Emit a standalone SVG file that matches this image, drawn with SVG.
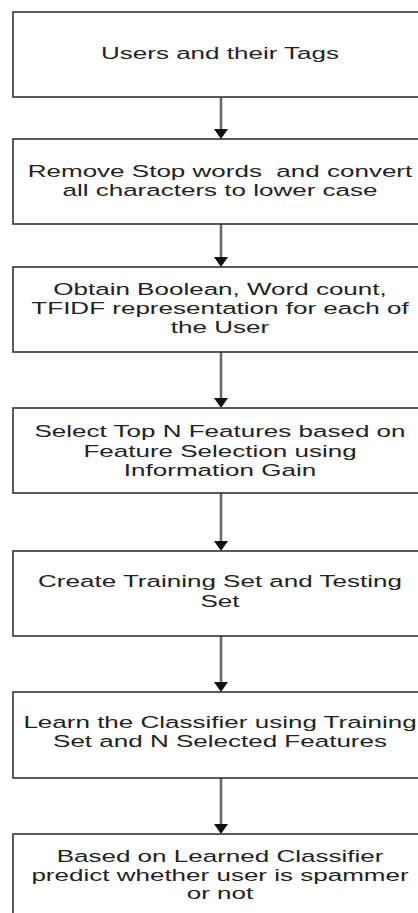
<svg xmlns="http://www.w3.org/2000/svg" width="418" height="913" viewBox="0 0 418 913">
<style>
.box{fill:#fff;stroke:#333;stroke-width:1.6}
.lbl{font-family:"Liberation Sans",Arial,sans-serif;font-size:17px;fill:#222;text-anchor:middle}
.edge{stroke:#6a6a6a;stroke-width:2.6;fill:none}
.head{fill:#111}
</style>
<defs>
<path id="ah" d="M-7,-10 L7,-10 L0,0 Z"/>
</defs>
<rect width="418" height="913" fill="#fff"/>
<g id="connectors">
<line class="edge" x1="221" y1="97" x2="221" y2="130"/><use href="#ah" class="head" x="221" y="139"/>
<line class="edge" x1="221" y1="224" x2="221" y2="258"/><use href="#ah" class="head" x="221" y="267"/>
<line class="edge" x1="221" y1="352" x2="221" y2="399"/><use href="#ah" class="head" x="221" y="408"/>
<line class="edge" x1="221" y1="493" x2="221" y2="542"/><use href="#ah" class="head" x="221" y="551"/>
<line class="edge" x1="221" y1="636" x2="221" y2="683"/><use href="#ah" class="head" x="221" y="692"/>
<line class="edge" x1="221" y1="778" x2="221" y2="825"/><use href="#ah" class="head" x="221" y="834"/>
</g>
<g id="n1"><rect class="box" x="13" y="12" width="416" height="85"/>
<g transform="matrix(1.53,0,0,1,220,0)"><text class="lbl" x="0" y="59">Users and their Tags</text></g></g>
<g id="n2"><rect class="box" x="13" y="139" width="416" height="85"/>
<g transform="matrix(1.53,0,0,1,220,0)"><text class="lbl" x="0" y="177" xml:space="preserve">Remove Stop words  and convert</text><text class="lbl" x="0" y="196">all characters to lower case</text></g></g>
<g id="n3"><rect class="box" x="13" y="267" width="416" height="85"/>
<g transform="matrix(1.53,0,0,1,220,0)"><text class="lbl" x="0" y="295">Obtain Boolean, Word count,</text><text class="lbl" x="0" y="314">TFIDF representation for each of</text><text class="lbl" x="0" y="333">the User</text></g></g>
<g id="n4"><rect class="box" x="13" y="408" width="416" height="85"/>
<g transform="matrix(1.53,0,0,1,220,0)"><text class="lbl" x="0" y="437">Select Top N Features based on</text><text class="lbl" x="0" y="457">Feature Selection using</text><text class="lbl" x="0" y="476">Information Gain</text></g></g>
<g id="n5"><rect class="box" x="13" y="551" width="416" height="85"/>
<g transform="matrix(1.53,0,0,1,220,0)"><text class="lbl" x="0" y="587">Create Training Set and Testing</text><text class="lbl" x="0" y="607">Set</text></g></g>
<g id="n6"><rect class="box" x="13" y="692" width="416" height="86"/>
<g transform="matrix(1.53,0,0,1,220,0)"><text class="lbl" x="0" y="728">Learn the Classifier using Training</text><text class="lbl" x="0" y="747">Set and N Selected Features</text></g></g>
<g id="n7"><rect class="box" x="13" y="834" width="416" height="85"/>
<g transform="matrix(1.53,0,0,1,220,0)"><text class="lbl" x="0" y="862">Based on Learned Classifier</text><text class="lbl" x="0" y="881">predict whether user is spammer</text><text class="lbl" x="0" y="899">or not</text></g></g>
</svg>
